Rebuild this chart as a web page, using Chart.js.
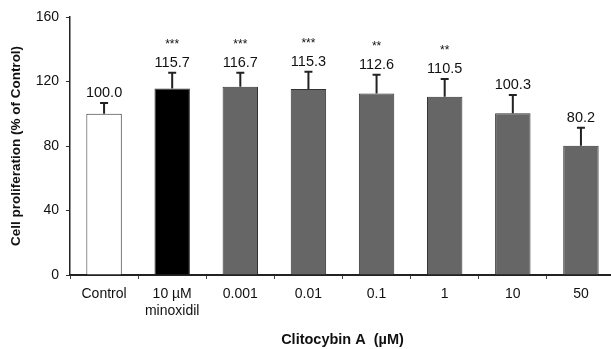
<!DOCTYPE html>
<html>
<head>
<meta charset="utf-8">
<script src="https://cdn.jsdelivr.net/npm/chart.js@4/dist/chart.umd.min.js"></script>
<style>
  html, body { margin: 0; padding: 0; background: #fff; overflow: hidden; }
  #wrap { width: 615px; height: 349px; }
</style>
</head>
<body>
<div id="wrap"><canvas id="chart"></canvas></div>
<script>
const categories = ["Control", ["10 µM", "minoxidil"], "0.001", "0.01", "0.1", "1", "10", "50"]
const values = [100.0, 115.7, 116.7, 115.3, 112.6, 110.5, 100.3, 80.2]
const errors = [6.7, 9.8, 8.8, 10.8, 11.6, 11.1, 11.3, 11.1]
const stars = ["", "***", "***", "***", "**", "**", "", ""]
const barColors = ["#ffffff", "#000000", "#666666", "#666666", "#666666", "#666666", "#666666", "#666666"]

const FONT = "'Liberation Sans', Arial, sans-serif"

// error bars (upper only) + value labels + significance stars
const annotate = {
  id: "annotate",
  afterDatasetsDraw(chart) {
    const ctx = chart.ctx
    const y = chart.scales.y
    const meta = chart.getDatasetMeta(0)
    ctx.save()
    meta.data.forEach((bar, i) => {
      const top = y.getPixelForValue(values[i])
      const errTop = y.getPixelForValue(values[i] + errors[i])
      ctx.strokeStyle = "#222"
      ctx.lineWidth = 2
      ctx.beginPath()
      ctx.moveTo(bar.x, top)
      ctx.lineTo(bar.x, errTop)
      ctx.moveTo(bar.x - 4, errTop)
      ctx.lineTo(bar.x + 4, errTop)
      ctx.stroke()

      ctx.fillStyle = "#111"
      ctx.textAlign = "center"
      ctx.textBaseline = "middle"
      ctx.font = "14.5px " + FONT
      ctx.fillText(values[i].toFixed(1), bar.x, errTop - 10)
      if (stars[i]) {
        ctx.font = "12px " + FONT
        ctx.fillText(stars[i], bar.x, errTop - 28)
      }
    })
    ctx.restore()
  },
}

new Chart(document.getElementById("chart").getContext("2d"), {
  type: "bar",
  data: {
    labels: categories,
    datasets: [
      {
        data: values,
        backgroundColor: barColors,
        borderColor: "#333",
        borderWidth: 1,
        categoryPercentage: 1,
        barPercentage: 0.52,
      },
    ],
  },
  options: {
    responsive: true,
    maintainAspectRatio: false,
    animation: false,
    layout: { padding: { top: 17, left: 0, right: 0, bottom: 0 } },
    plugins: { legend: { display: false }, tooltip: { enabled: false } },
    scales: {
      x: {
        border: { color: "#222", width: 2 },
        grid: { display: true, drawOnChartArea: false, drawTicks: true, tickLength: 4, color: "#444", offset: true },
        ticks: { color: "#111", font: { family: FONT, size: 14 }, padding: 7, maxRotation: 0, autoSkip: false },
        title: {
          display: true,
          text: "Clitocybin A  (µM)",
          color: "#111",
          font: { family: FONT, size: 14.5, weight: "bold" },
          padding: { top: 0, bottom: 0 },
        },
        afterFit: (scale) => { scale.height = 74 },
      },
      y: {
        min: 0,
        max: 160,
        border: { color: "#222", width: 1.5 },
        grid: { display: true, drawOnChartArea: false, drawTicks: true, tickLength: 4, color: "#333" },
        ticks: { stepSize: 40, color: "#111", font: { family: FONT, size: 14 }, padding: 7 },
        title: {
          display: true,
          text: "Cell proliferation (% of Control)",
          color: "#111",
          font: { family: FONT, size: 13.5, weight: "bold" },
          padding: { top: 8, bottom: 0 },
        },
        afterFit: (scale) => { scale.width = 70 },
      },
    },
  },
  plugins: [annotate],
})
</script>
</body>
</html>
